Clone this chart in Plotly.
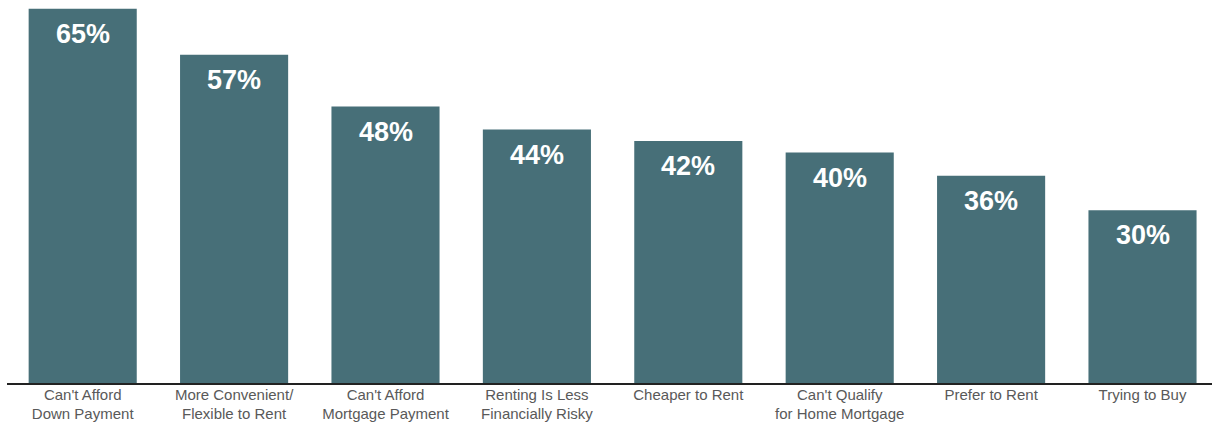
import plotly.graph_objects as go

categories = [
    "Can't Afford<br>Down Payment",
    "More Convenient/<br>Flexible to Rent",
    "Can't Afford<br>Mortgage Payment",
    "Renting Is Less<br>Financially Risky",
    "Cheaper to Rent",
    "Can't Qualify<br>for Home Mortgage",
    "Prefer to Rent",
    "Trying to Buy",
]
shares = [65, 57, 48, 44, 42, 40, 36, 30]
share_labels = [f"{v}%" for v in shares]

BAR_COLOR = "#476f78"

fig = go.Figure(
    go.Bar(
        x=list(range(len(categories))),
        y=shares,
        marker=dict(color=BAR_COLOR, line=dict(width=0)),
        hoverinfo="skip",
    )
)

# value labels near the top of each bar
for i, (v, lbl) in enumerate(zip(shares, share_labels)):
    fig.add_annotation(
        x=i, y=v, text=f"<b>{lbl}</b>", showarrow=False,
        xanchor="center", yanchor="middle", yshift=-25,
        font=dict(family="Liberation Sans, Arial, sans-serif", size=27, color="white"),
    )

fig.update_layout(
    width=1212, height=423,
    margin=dict(l=7, r=0, t=0, b=40),
    paper_bgcolor="white", plot_bgcolor="white",
    bargap=0.286,
    showlegend=False,
    xaxis=dict(
        range=[-0.5, 7.459],
        automargin=False,
        tickmode="array",
        tickvals=list(range(len(categories))),
        ticktext=categories,
        showline=True, linecolor="#222222", linewidth=1.5,
        showgrid=False, zeroline=False, ticks="",
        ticklabelstandoff=-3,
        tickfont=dict(family="Liberation Sans, Arial, sans-serif", size=15, color="#595959"),
    ),
    yaxis=dict(range=[0, 66.5], visible=False, showgrid=False, zeroline=False,
               automargin=False),
)

fig.write_html("out.html")
